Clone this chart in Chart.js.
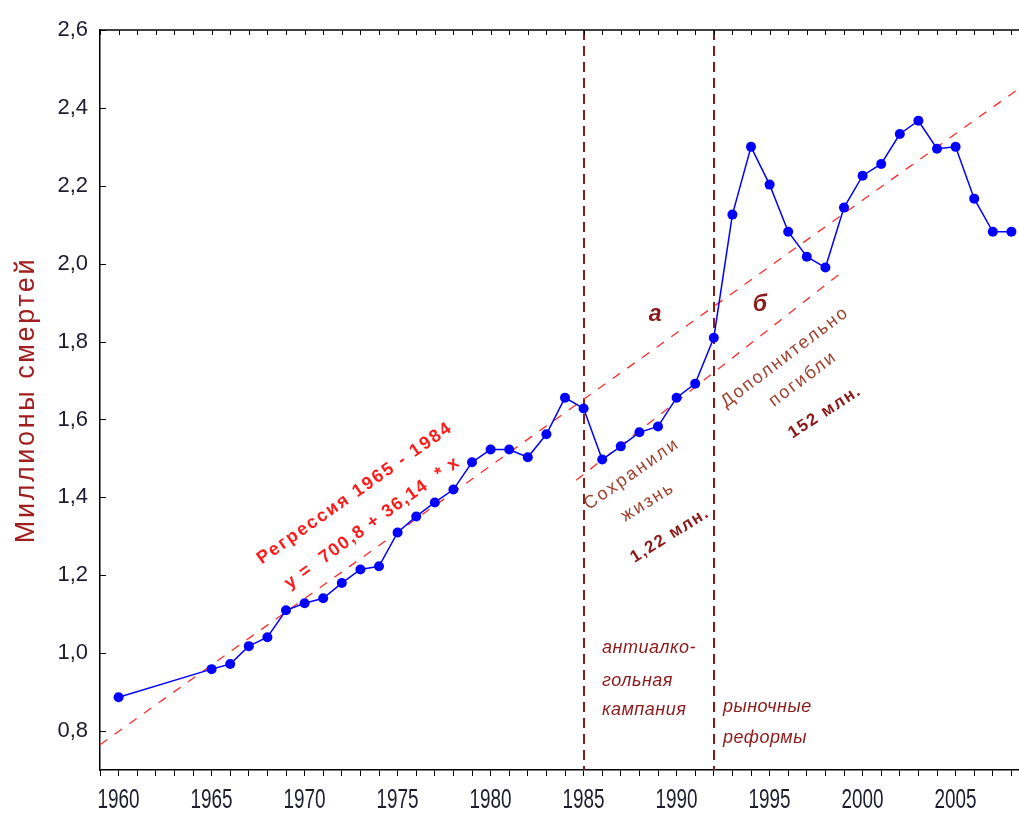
<!DOCTYPE html>
<html>
<head>
<meta charset="utf-8">
<script src="https://cdn.jsdelivr.net/npm/chart.js@4"></script>
<style>
  html, body { margin: 0; padding: 0; background: #fff; overflow: hidden; }
  #wrap { width: 1030px; height: 814px; }
</style>
</head>
<body>
<div id="wrap"><canvas id="c" width="1030" height="814"></canvas></div>
<script>
// Annual deaths, millions
const years = [1960, 1965, 1966, 1967, 1968, 1969, 1970, 1971, 1972, 1973, 1974,
  1975, 1976, 1977, 1978, 1979, 1980, 1981, 1982, 1983, 1984, 1985, 1986, 1987,
  1988, 1989, 1990, 1991, 1992, 1993, 1994, 1995, 1996, 1997, 1998, 1999, 2000,
  2001, 2002, 2003, 2004, 2005, 2006, 2007, 2008];
const deaths = [0.887, 0.959, 0.972, 1.018, 1.041, 1.110, 1.128, 1.141, 1.180,
  1.215, 1.223, 1.310, 1.351, 1.387, 1.420, 1.490, 1.523, 1.523, 1.503, 1.562,
  1.656, 1.628, 1.497, 1.531, 1.567, 1.582, 1.656, 1.692, 1.810, 2.126, 2.300,
  2.203, 2.082, 2.018, 1.990, 2.144, 2.226, 2.256, 2.333, 2.367, 2.295, 2.300,
  2.167, 2.082, 2.082];

// Regression line fitted on 1965-1984, extended across the axis
const regressionYears = [1959, 2009];
const regressionValues = [0.765, 2.47];

// Lower dashed line for the reform period
const lateTrendYears = [1984.6, 1998.8];
const lateTrendValues = [1.444, 1.975];

// Event markers (anti-alcohol campaign, market reforms)
const eventYears = [1985, 1992];

// Axis ticks
const xTickYears = [];
for (let y = 1959; y <= 2009; y++) xTickYears.push(y);
const xLabelYears = [1960, 1965, 1970, 1975, 1980, 1985, 1990, 1995, 2000, 2005];
const yTickValues = [0.8, 1.0, 1.2, 1.4, 1.6, 1.8, 2.0, 2.2, 2.4, 2.6];
const yTickLabels = ['0,8', '1,0', '1,2', '1,4', '1,6', '1,8', '2,0', '2,2', '2,4', '2,6'];

const toPoints = (xs, ys) => xs.map((x, i) => ({ x: x, y: ys[i] }));

const SANS = "'Liberation Sans', Arial, sans-serif";

function drawText(ctx, text, x, y, angleDeg, font, color, spacing, align) {
  ctx.save();
  ctx.translate(x, y);
  ctx.rotate(angleDeg * Math.PI / 180);
  ctx.font = font;
  ctx.letterSpacing = (spacing || 0) + 'px';
  ctx.fillStyle = color;
  ctx.textAlign = align || 'center';
  ctx.textBaseline = 'middle';
  ctx.fillText(text, 0, 0);
  ctx.restore();
}

// tick label, optionally squeezed horizontally
function drawTick(ctx, text, x, y, align, size, squeeze) {
  ctx.save();
  ctx.translate(x, y);
  ctx.scale(squeeze, 1);
  ctx.font = size + 'px ' + SANS;
  ctx.fillStyle = '#1c1c2c';
  ctx.textAlign = align;
  ctx.textBaseline = 'middle';
  ctx.fillText(text, 0, 0);
  ctx.restore();
}

const decorations = {
  id: 'decorations',
  beforeDatasetsDraw(chart) {
    const { ctx, chartArea } = chart;
    const xs = chart.scales.x;
    ctx.save();
    ctx.strokeStyle = '#8B1A1A';
    ctx.lineWidth = 2;
    ctx.setLineDash([10, 6]);
    eventYears.forEach(yr => {
      const px = Math.round(xs.getPixelForValue(yr));
      ctx.beginPath();
      ctx.moveTo(px, chartArea.top);
      ctx.lineTo(px, chartArea.bottom);
      ctx.stroke();
    });
    ctx.restore();
  },
  afterDraw(chart) {
    const { ctx, chartArea } = chart;
    const xs = chart.scales.x, ys = chart.scales.y;
    ctx.save();
    ctx.strokeStyle = '#000';
    ctx.lineWidth = 1.5;
    // top frame line with inward yearly ticks
    ctx.beginPath();
    ctx.moveTo(chartArea.left, chartArea.top);
    ctx.lineTo(chartArea.right, chartArea.top);
    ctx.stroke();
    ctx.lineWidth = 1;
    xTickYears.forEach(yr => {
      const px = Math.round(xs.getPixelForValue(yr)) + 0.5;
      ctx.beginPath();
      ctx.moveTo(px, chartArea.top);
      ctx.lineTo(px, chartArea.top + 5);
      ctx.stroke();
    });
    // inward ticks on the value axis
    yTickValues.forEach(v => {
      const py = Math.round(ys.getPixelForValue(v)) + 0.5;
      ctx.beginPath();
      ctx.moveTo(chartArea.left, py);
      ctx.lineTo(chartArea.left + 6, py);
      ctx.stroke();
    });
    ctx.restore();

    // tick labels
    xLabelYears.forEach(yr => drawTick(ctx, String(yr), xs.getPixelForValue(yr), chartArea.bottom + 31, 'center', 27, 0.7));
    yTickValues.forEach((v, i) => drawTick(ctx, yTickLabels[i], chartArea.left - 12, ys.getPixelForValue(v), 'right', 22, 1));

    // axis title
    drawText(ctx, 'Миллионы смертей', 27, (chartArea.top + chartArea.bottom) / 2, -90,
      '27px ' + SANS, '#A01E1E', 2.6);

    const P = (yr, v) => [xs.getPixelForValue(yr), ys.getPixelForValue(v)];
    let p;
    // regression caption
    p = P(1972.71, 1.411);
    drawText(ctx, 'Регрессия 1965 - 1984', p[0], p[1], -35, 'bold 18px ' + SANS, '#FF1A1A', 2);
    p = P(1973.65, 1.335);
    drawText(ctx, 'y =  700,8 + 36,14  * x', p[0], p[1], -36, 'bold 18px ' + SANS, '#FF1A1A', 1.5);

    // period letters
    p = P(1988.84, 1.868);
    drawText(ctx, 'а', p[0], p[1], 0, 'italic bold 23px ' + SANS, '#8B1A1A', 0);
    p = P(1994.48, 1.894);
    drawText(ctx, 'б', p[0], p[1], 0, 'italic bold 23px ' + SANS, '#8B1A1A', 0);

    // lives saved
    const brown = '#A0402E';
    p = P(1987.6, 1.460);
    drawText(ctx, 'Сохранили', p[0], p[1], -35, '18px ' + SANS, brown, 2.2);
    p = P(1988.46, 1.388);
    drawText(ctx, 'жизнь', p[0], p[1], -32, '18px ' + SANS, brown, 2);
    p = P(1989.65, 1.303);
    drawText(ctx, '1,22 млн.', p[0], p[1], -32, 'bold 17px ' + SANS, '#8B1A1A', 1.5);

    // excess deaths
    p = P(1995.83, 1.760);
    drawText(ctx, 'Дополнительно', p[0], p[1], -37, '18px ' + SANS, brown, 2);
    p = P(1996.8, 1.704);
    drawText(ctx, 'погибли', p[0], p[1], -37, '18px ' + SANS, brown, 2);
    p = P(1997.98, 1.619);
    drawText(ctx, '152 млн.', p[0], p[1], -33, 'bold 17px ' + SANS, '#8B1A1A', 1.5);

    // event captions
    const it = 'italic 18px ' + SANS;
    p = P(1985.99, 1.013);
    drawText(ctx, 'антиалко-', p[0], p[1], 0, it, '#8B1A1A', 0.5, 'left');
    p = P(1985.99, 0.928);
    drawText(ctx, 'гольная', p[0], p[1], 0, it, '#8B1A1A', 0.5, 'left');
    p = P(1985.99, 0.854);
    drawText(ctx, 'кампания', p[0], p[1], 0, it, '#8B1A1A', 0.5, 'left');
    p = P(1992.49, 0.862);
    drawText(ctx, 'рыночные', p[0], p[1], 0, it, '#8B1A1A', 0.5, 'left');
    p = P(1992.49, 0.782);
    drawText(ctx, 'реформы', p[0], p[1], 0, it, '#8B1A1A', 0.5, 'left');
  }
};

new Chart(document.getElementById('c'), {
  type: 'line',
  data: {
    datasets: [
      {
        data: toPoints(years, deaths),
        borderColor: '#0000FF',
        backgroundColor: '#0000FF',
        borderWidth: 1.5,
        pointRadius: 5,
        pointStyle: 'circle',
        pointBorderWidth: 0,
        tension: 0
      },
      {
        data: toPoints(regressionYears, regressionValues),
        borderColor: '#FF2A2A',
        borderWidth: 1.3,
        borderDash: [9, 9],
        pointRadius: 0
      },
      {
        data: toPoints(lateTrendYears, lateTrendValues),
        borderColor: '#FF2A2A',
        borderWidth: 1.3,
        borderDash: [9, 9],
        pointRadius: 0
      }
    ]
  },
  options: {
    responsive: false,
    animation: false,
    devicePixelRatio: 1,
    layout: { autoPadding: false, padding: { top: 30, right: 0, left: 0, bottom: 0 } },
    plugins: { legend: { display: false }, tooltip: { enabled: false } },
    scales: {
      x: {
        type: 'linear',
        min: 1959,
        max: 2009,
        afterBuildTicks: s => { s.ticks = xTickYears.map(v => ({ value: v })); },
        afterFit: s => { s.height = 44; },
        border: { display: true, color: '#000', width: 1.5 },
        grid: { display: true, drawOnChartArea: false, drawTicks: true, tickLength: 6, color: '#000', lineWidth: 1 },
        ticks: { display: false, autoSkip: false, maxRotation: 0 }
      },
      y: {
        min: 0.7,
        max: 2.6,
        afterBuildTicks: s => { s.ticks = yTickValues.map(v => ({ value: v })); },
        afterFit: s => { s.width = 100; },
        border: { display: true, color: '#000', width: 1.5 },
        grid: { display: false, drawTicks: false },
        ticks: { display: false }
      }
    }
  },
  plugins: [decorations]
});
</script>
</body>
</html>
